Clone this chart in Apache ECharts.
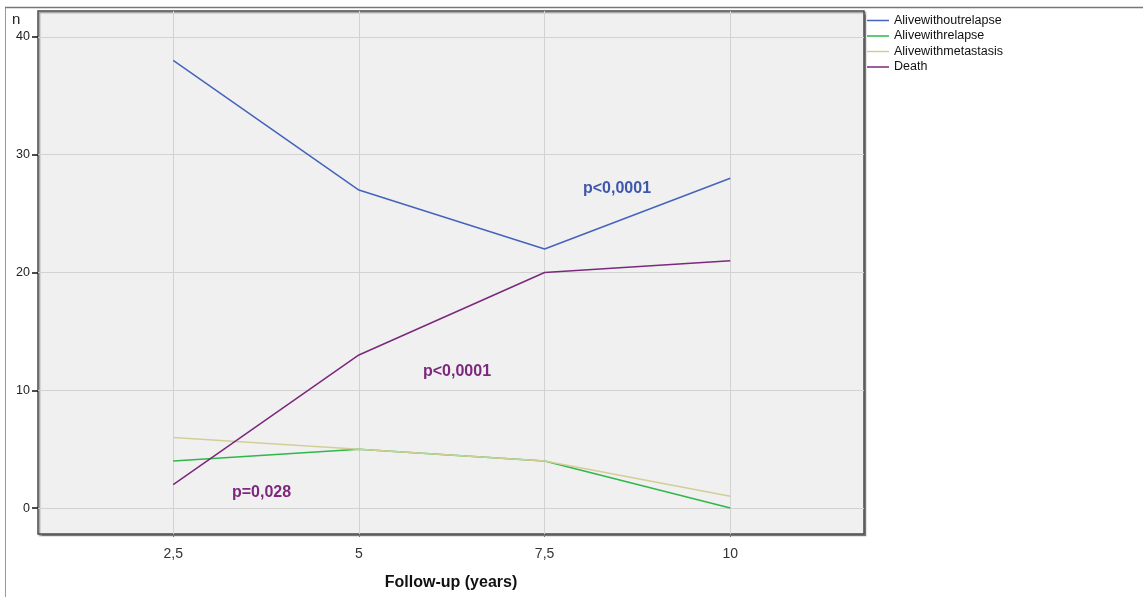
<!DOCTYPE html>
<html>
<head>
<meta charset="utf-8">
<style>
  html, body { margin: 0; padding: 0; background: #fff; }
  #chart { width: 1143px; height: 597px; }
</style>
<script src="https://cdn.jsdelivr.net/npm/echarts@6/dist/echarts.min.js"></script>
</head>
<body>
<div id="chart"></div>
<script>
// Follow-up time points (years) and tick labels
const years = [2.5, 5, 7.5, 10];
const xTickValues = [2.5, 5, 7.5, 10];
const xTickLabels = ['2,5', '5', '7,5', '10'];
const yTickValues = [0, 10, 20, 30, 40];

// Patient counts per outcome group
const aliveWithoutRelapse = [38, 27, 22, 28];
const aliveWithRelapse = [4, 5, 4, 0];
const aliveWithMetastasis = [6, 5, 4, 1];
const death = [2, 13, 20, 21];

const seriesNames = ['Alivewithoutrelapse', 'Alivewithrelapse', 'Alivewithmetastasis', 'Death'];
const seriesValues = [aliveWithoutRelapse, aliveWithRelapse, aliveWithMetastasis, death];
const colors = ['#4563bd', '#2eb848', '#d3ce97', '#7c287d'];

const pairs = vals => years.map((x, i) => [x, vals[i]]);

const chart = echarts.init(document.getElementById('chart'));
chart.setOption({
  animation: false,
  color: colors,
  grid: {
    left: 38, right: 279, top: 11, bottom: 63,
    outerBoundsMode: 'none',
    containLabel: false,
    show: true,
    backgroundColor: '#f0f0f0',
    borderColor: '#4a4a4a',
    borderWidth: 1.5,
    shadowColor: 'rgba(0,0,0,0.35)',
    shadowOffsetX: 1.5,
    shadowOffsetY: 1.5,
    shadowBlur: 1
  },
  legend: {
    orient: 'vertical',
    left: 867, top: 14,
    padding: 0,
    itemGap: 2.5,
    itemWidth: 22, itemHeight: 1.5,
    icon: 'rect',
    textStyle: { fontFamily: 'Liberation Sans, Arial, sans-serif', fontSize: 12.5, color: '#111', lineHeight: 13 },
    data: seriesNames
  },
  xAxis: {
    type: 'value',
    min: 0.68, max: 11.8,
    name: 'Follow-up (years)',
    nameLocation: 'middle',
    nameGap: 41,
    nameTextStyle: { fontFamily: 'Liberation Sans, Arial, sans-serif', fontWeight: 'bold', fontSize: 16, color: '#111' },
    axisLine: { show: false, onZero: false },
    axisTick: { show: true, customValues: xTickValues, length: 3, lineStyle: { color: '#777' } },
    axisLabel: {
      customValues: xTickValues,
      formatter: v => xTickLabels[xTickValues.indexOf(v)] ?? '',
      fontFamily: 'Liberation Sans, Arial, sans-serif',
      fontSize: 14, color: '#333', margin: 13
    },
    splitLine: { show: true, lineStyle: { color: '#d2d2d2', width: 1 } }
  },
  yAxis: {
    type: 'value',
    min: -2.2, max: 42.2,
    axisLine: { show: false, onZero: false },
    axisTick: { show: true, customValues: yTickValues, inside: false, length: 6, lineStyle: { color: '#111', width: 1.5 } },
    axisLabel: {
      customValues: yTickValues,
      fontFamily: 'Liberation Sans, Arial, sans-serif',
      fontSize: 12.5, color: '#222', margin: 8
    },
    splitLine: { show: true, lineStyle: { color: '#d2d2d2', width: 1 } }
  },
  series: seriesNames.map((name, i) => ({
    name: name,
    type: 'line',
    data: pairs(seriesValues[i]),
    showSymbol: false,
    symbol: 'none',
    lineStyle: { width: 1.5, color: colors[i] },
    z: 3 + i
  })),
  graphic: [
    // outer frame
    { type: 'line', shape: { x1: 5.5, y1: 7, x2: 5.5, y2: 597 }, style: { stroke: '#999', lineWidth: 1 }, silent: true },
    { type: 'line', shape: { x1: 5, y1: 7.5, x2: 1143, y2: 7.5 }, style: { stroke: '#777', lineWidth: 1.5 }, silent: true },
    // y axis title
    { type: 'text', left: 12, top: 12, style: { text: 'n', fill: '#222', font: '15px "Liberation Sans", Arial, sans-serif' } },
    // significance annotations
    { type: 'text', left: 583, top: 181, style: { text: 'p<0,0001', fill: '#3e58ac', font: 'bold 16px "Liberation Sans", Arial, sans-serif' }, z: 10 },
    { type: 'text', left: 423, top: 364, style: { text: 'p<0,0001', fill: '#7c287d', font: 'bold 16px "Liberation Sans", Arial, sans-serif' }, z: 10 },
    { type: 'text', left: 232, top: 485, style: { text: 'p=0,028', fill: '#7c287d', font: 'bold 16px "Liberation Sans", Arial, sans-serif' }, z: 10 }
  ]
});
</script>
</body>
</html>
